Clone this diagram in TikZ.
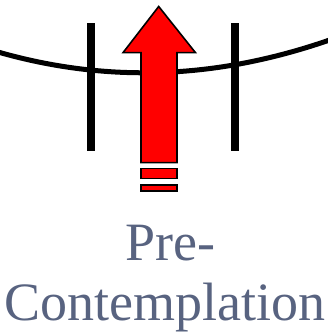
\documentclass[tikz,border=0pt]{standalone}
\usepackage{fontspec}
\setmainfont{Liberation Serif}
\definecolor{slate}{RGB}{88,99,128}
\definecolor{arrowred}{RGB}{255,0,0}
\tikzset{
  wire/.style={line width=5pt},
  post/.style={line width=8pt},
  redpart/.style={fill=arrowred,draw=black,line width=1.6pt,line join=miter},
  label/.style={text=slate,font=\fontsize{54}{60}\selectfont,inner sep=0pt,anchor=base}
}
\begin{document}
\begin{tikzpicture}[x=1pt,y=-1pt]
\useasboundingbox (0,0) rectangle (327,336);
% curved line
\draw[wire] (-2,52) .. controls (106.7,83.1) and (215.7,79.4) .. (329,40.2);
% posts
\draw[post] (91,23.3) -- (91,150.7);
\draw[post] (235,23.3) -- (235,150.7);
% arrow
\draw[redpart] (158.7,6.5) -- (195.5,52.7) -- (177,52.7) -- (177,162.7) -- (141,162.7) -- (141,52.7) -- (123,52.7) -- cycle;
\draw[redpart] (141,168.5) rectangle (177,178.5);
\draw[redpart] (141,185) rectangle (177,191);
% text
\node[label] (pre) at (170.5,260) {Pre-};
\node[label] (cont) at (165,320) {Contemplation};
\end{tikzpicture}
\end{document}
